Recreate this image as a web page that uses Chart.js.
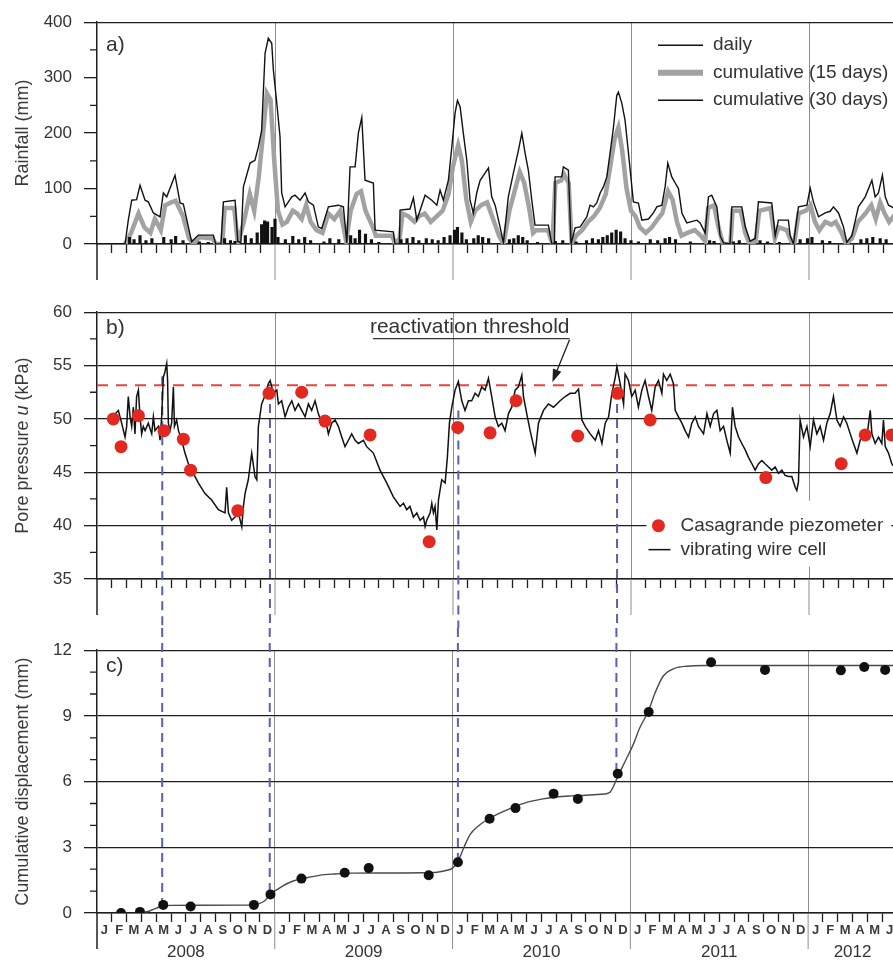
<!DOCTYPE html>
<html>
<head>
<meta charset="utf-8">
<title>Rainfall, pore pressure and displacement 2008-2012</title>
<script src="https://cdn.jsdelivr.net/npm/chart.js@4.4.1/dist/chart.umd.min.js"></script>
<style>
  html, body { margin: 0; padding: 0; background: #fff; overflow: hidden; }
  #wrap { position: relative; width: 893px; height: 962px; overflow: hidden; }
  #wrap canvas { position: absolute; left: 0; }
</style>
</head>
<body>
<div id="wrap">
  <canvas id="rainChart" width="898" height="290" style="top:0"></canvas>
  <canvas id="poreChart" width="898" height="338" style="top:290px"></canvas>
  <canvas id="dispChart" width="898" height="334" style="top:628px"></canvas>
</div>
<script>
// time axis: months since 1 Jan 2008
const X_MAX = 54;
const monthLetters = ['J', 'F', 'M', 'A', 'M', 'J', 'J', 'A', 'S', 'O', 'N', 'D'];
const years = [2008, 2009, 2010, 2011, 2012];

// a) rainfall (mm)
const dailyMonths = [2.2, 2.5, 2.9, 3.3, 3.7, 4.5, 5.0, 5.3, 5.8, 6.9,
  7.5, 8.6, 9.0, 9.3, 10.0, 10.4, 10.8, 11.1, 11.3, 11.5,
  11.8, 12.0, 12.2, 12.7, 13.2, 13.6, 14.0, 14.4, 15.3, 15.7,
  16.3, 17.1, 17.4, 17.7, 18.1, 18.5, 19.0, 20.5, 20.9, 21.3,
  21.7, 22.2, 22.6, 23.0, 23.4, 23.8, 24.1, 24.3, 24.6, 24.9,
  25.4, 25.7, 26.0, 26.4, 27.8, 28.1, 28.4, 28.7, 29.0, 29.7,
  30.9, 31.4, 32.3, 33.0, 33.4, 33.8, 34.1, 34.4, 34.7, 35.0,
  35.3, 35.6, 36.0, 36.5, 37.3, 37.8, 38.3, 38.6, 39.0, 40.0,
  41.3, 41.6, 42.9, 43.3, 44.7, 45.2, 46.0, 47.4, 47.9, 48.2,
  48.9, 49.4, 51.5, 51.9, 52.3, 52.8, 53.2];
const dailyMm = [12, 8, 15, 6, 10, 12, 8, 14, 6, 4,
  3, 10, 6, 5, 15, 10, 20, 35, 42, 40,
  30, 45, 12, 8, 14, 8, 12, 6, 4, 10,
  8, 15, 10, 25, 18, 8, 3, 8, 10, 12,
  6, 10, 8, 6, 12, 15, 25, 30, 20, 8,
  10, 15, 12, 10, 8, 10, 15, 12, 6, 3,
  5, 6, 4, 6, 10, 8, 12, 15, 20, 25,
  22, 10, 6, 4, 8, 6, 10, 12, 8, 4,
  6, 5, 4, 6, 6, 4, 3, 8, 10, 12,
  6, 5, 8, 10, 12, 10, 8];

const rain15Months = [1.9, 2.3, 2.8, 3.2, 3.6, 3.9, 4.3, 4.6, 5.0, 5.3,
  5.8, 6.2, 6.5, 6.9, 7.8, 8.0, 8.45, 8.6, 9.25, 9.5,
  9.9, 10.3, 10.6, 10.9, 11.2, 11.45, 11.7, 11.95, 12.2, 12.5,
  12.8, 13.2, 13.5, 13.8, 14.1, 14.4, 14.8, 15.2, 15.6, 16.0,
  16.4, 16.8, 17.1, 17.5, 17.8, 18.1, 18.6, 18.8, 19.9, 20.1,
  20.4, 20.6, 21.0, 21.4, 21.7, 22.1, 22.5, 22.9, 23.3, 23.7,
  24.0, 24.35, 24.6, 24.9, 25.2, 25.5, 25.9, 26.3, 26.7, 27.1,
  27.4, 27.8, 28.1, 28.5, 28.8, 29.1, 29.4, 29.6, 30.4, 30.7,
  30.9, 31.3, 31.5, 31.8, 32.0, 32.3, 32.7, 33.1, 33.5, 33.9,
  34.3, 34.6, 34.9, 35.15, 35.4, 35.7, 36.0, 36.3, 36.6, 37.0,
  37.4, 37.8, 38.1, 38.5, 38.8, 39.1, 39.4, 39.8, 40.3, 40.7,
  41.0, 41.2, 41.6, 41.9, 42.2, 42.7, 42.85, 43.4, 43.7, 44.0,
  44.4, 44.65, 45.4, 45.7, 45.95, 46.5, 46.8, 47.0, 47.3, 47.8,
  48.1, 48.4, 48.7, 49.1, 49.5, 49.8, 50.2, 50.5, 50.9, 51.3,
  51.8, 52.2, 52.5, 52.8, 53.1, 53.4, 54.0];
const rain15Mm = [0, 20, 55, 30, 20, 45, 25, 70, 75, 78,
  50, 10, 0, 12, 10, 0, 0, 65, 65, 0,
  40, 90, 60, 120, 200, 272, 260, 150, 60, 35,
  40, 60, 55, 45, 70, 40, 25, 20, 55, 45,
  60, 5, 60, 90, 95, 60, 30, 15, 15, 0,
  10, 55, 50, 40, 50, 55, 40, 50, 60, 90,
  140, 178, 150, 80, 40, 60, 70, 75, 45, 15,
  0, 60, 90, 130, 110, 70, 20, 25, 25, 0,
  110, 115, 125, 110, 0, 15, 25, 40, 50, 65,
  90, 140, 190, 210, 170, 100, 60, 50, 30, 20,
  30, 45, 55, 95, 80, 40, 15, 20, 25, 15,
  5, 65, 70, 30, 0, 0, 60, 60, 20, 0,
  5, 60, 65, 10, 30, 25, 5, 0, 55, 60,
  70, 40, 25, 40, 35, 40, 20, 0, 10, 40,
  55, 70, 45, 75, 55, 40, 60];

const rain30Months = [0, 1.89, 2.11, 2.34, 2.67, 2.90, 3.24, 3.46, 3.80, 4.25,
  4.47, 4.70, 5.26, 5.60, 5.82, 6.16, 6.38, 6.83, 7.84, 8.00,
  8.36, 8.52, 9.31, 9.49, 9.70, 9.87, 10.32, 10.65, 10.88, 11.10,
  11.33, 11.55, 11.78, 11.89, 12.12, 12.34, 12.45, 12.68, 13.13, 13.35,
  13.69, 14.03, 14.25, 14.59, 14.92, 15.15, 15.60, 16.27, 16.61, 16.84,
  17.06, 17.40, 17.62, 17.85, 18.07, 18.63, 18.75, 19.98, 20.09, 20.39,
  20.43, 21.10, 21.33, 21.56, 22.12, 22.57, 22.91, 23.13, 23.35, 23.69,
  23.92, 24.14, 24.30, 24.48, 24.70, 24.93, 25.15, 25.37, 25.60, 25.83,
  26.16, 26.39, 26.61, 26.84, 27.17, 27.40, 27.73, 28.07, 28.41, 28.64,
  28.86, 29.08, 29.31, 29.53, 30.43, 30.66, 30.84, 30.88, 31.33, 31.44,
  31.78, 31.96, 32.23, 32.57, 33.02, 33.24, 33.47, 33.69, 33.92, 34.14,
  34.37, 34.59, 34.82, 35.04, 35.15, 35.38, 35.60, 35.83, 36.16, 36.50,
  36.73, 37.18, 37.51, 37.74, 38.08, 38.30, 38.48, 38.75, 38.98, 39.20,
  39.43, 39.76, 40.44, 40.66, 41.00, 41.22, 41.44, 41.79, 42.01, 42.23,
  42.68, 42.80, 43.47, 43.70, 44.03, 44.37, 44.59, 45.49, 45.72, 45.94,
  46.61, 46.73, 46.95, 47.29, 47.86, 48.08, 48.30, 48.64, 49.09, 49.43,
  49.65, 49.99, 50.32, 50.55, 50.89, 51.33, 51.79, 52.24, 52.46, 52.68,
  52.95, 53.14, 53.36, 53.58, 54.00];
const rain30Mm = [0, 0, 43, 79, 80, 106, 79, 76, 56, 49,
  92, 85, 124, 74, 72, 31, 4, 16, 16, 0,
  0, 76, 79, 5, 2, 103, 146, 151, 175, 205,
  344, 371, 362, 314, 254, 193, 92, 67, 85, 88,
  79, 92, 76, 70, 31, 28, 67, 70, 67, 2,
  139, 139, 200, 228, 115, 110, 25, 22, 0, 0,
  61, 63, 83, 43, 88, 79, 70, 97, 79, 115,
  175, 236, 259, 247, 199, 151, 79, 56, 92, 115,
  128, 137, 85, 70, 31, 2, 85, 128, 169, 200,
  164, 133, 79, 34, 34, 0, 0, 121, 121, 139,
  133, 0, 29, 31, 49, 70, 67, 74, 92, 103,
  121, 164, 211, 268, 274, 254, 223, 164, 76, 74,
  43, 45, 56, 67, 70, 103, 146, 121, 110, 100,
  56, 38, 43, 38, 20, 85, 88, 67, 15, 2,
  0, 67, 67, 31, 5, 10, 76, 74, 15, 43,
  43, 15, 0, 67, 70, 101, 76, 49, 56, 59,
  67, 56, 31, 3, 15, 67, 85, 115, 85, 92,
  124, 85, 70, 67, 60];

// b) pore pressure (kPa)
const wireMonths = [1.10, 1.44, 1.66, 1.89, 2.00, 2.11, 2.23, 2.34, 2.45, 2.56,
  2.67, 2.79, 2.90, 3.01, 3.12, 3.24, 3.46, 3.69, 3.80, 3.91,
  4.14, 4.25, 4.36, 4.47, 4.58, 4.70, 4.76, 4.81, 4.92, 5.03,
  5.15, 5.22, 5.37, 5.49, 5.71, 5.93, 6.16, 6.38, 6.83, 7.28,
  7.73, 8.18, 8.63, 8.74, 8.86, 9.08, 9.31, 9.53, 9.76, 9.87,
  9.98, 10.20, 10.43, 10.65, 10.77, 10.88, 11.10, 11.33, 11.55, 11.67,
  11.89, 12.12, 12.23, 12.45, 12.68, 12.90, 13.13, 13.35, 13.58, 13.80,
  14.03, 14.25, 14.47, 14.70, 14.92, 15.15, 15.37, 15.60, 15.82, 16.05,
  16.27, 16.50, 16.72, 16.95, 17.17, 17.40, 17.62, 17.96, 18.18, 18.63,
  19.08, 19.53, 19.98, 20.43, 20.66, 20.88, 21.10, 21.33, 21.56, 21.78,
  22.01, 22.12, 22.23, 22.46, 22.57, 22.68, 22.79, 22.91, 23.02, 23.24,
  23.47, 23.62, 23.76, 23.92, 24.14, 24.36, 24.59, 24.81, 25.04, 25.26,
  25.49, 25.71, 25.94, 26.16, 26.39, 26.61, 26.84, 27.06, 27.29, 27.51,
  27.74, 27.96, 28.19, 28.41, 28.64, 28.75, 28.97, 29.20, 29.54, 29.76,
  30.10, 30.43, 30.77, 31.22, 31.56, 31.90, 32.23, 32.46, 32.69, 32.91,
  33.25, 33.59, 33.81, 34.04, 34.26, 34.49, 34.71, 34.94, 35.05, 35.27,
  35.50, 35.60, 35.83, 36.05, 36.28, 36.50, 36.73, 36.95, 37.18, 37.40,
  37.63, 37.85, 38.08, 38.19, 38.41, 38.64, 38.86, 38.98, 39.20, 39.43,
  39.65, 39.88, 40.10, 40.33, 40.55, 40.89, 41.12, 41.34, 41.57, 41.79,
  42.01, 42.24, 42.46, 42.69, 42.84, 43.02, 43.25, 43.47, 43.70, 43.92,
  44.15, 44.37, 44.60, 44.82, 45.04, 45.27, 45.49, 45.72, 45.94, 46.17,
  46.39, 46.62, 46.84, 47.07, 47.18, 47.29, 47.40, 47.63, 47.86, 48.08,
  48.30, 48.53, 48.75, 48.98, 49.20, 49.43, 49.65, 49.88, 50.10, 50.33,
  50.55, 50.78, 51.00, 51.23, 51.45, 51.68, 51.90, 52.13, 52.24, 52.46,
  52.69, 52.91, 53.02, 53.14, 53.36, 53.58, 54.00];
const wireKPa = [50.3, 50.8, 49.6, 48.3, 49.3, 52.1, 50.2, 49.3, 51.1, 48.6,
  52.1, 52.7, 50.2, 48.6, 49.3, 48.9, 49.6, 48.6, 50.2, 48.9,
  49.3, 48.0, 50.2, 53.9, 54.4, 55.2, 53.6, 49.6, 48.9, 49.6,
  53.0, 49.3, 49.9, 48.9, 48.0, 46.8, 45.8, 45.2, 44.0, 43.0,
  42.4, 41.5, 41.2, 43.6, 41.2, 40.5, 40.8, 41.2, 39.9, 41.8,
  43.0, 44.3, 46.8, 44.6, 44.3, 49.3, 51.4, 52.2, 53.3, 53.6,
  52.4, 52.7, 51.4, 51.7, 50.2, 51.1, 51.7, 50.8, 51.4, 50.8,
  50.2, 51.4, 50.8, 51.7, 50.5, 49.6, 50.2, 48.6, 49.6, 49.9,
  49.3, 48.3, 47.4, 48.0, 48.6, 48.0, 47.7, 48.0, 47.4, 46.8,
  45.2, 44.0, 42.7, 41.8, 42.1, 41.5, 41.8, 40.8, 41.2, 40.5,
  40.8, 39.9, 40.5, 41.2, 42.1, 41.2, 41.8, 39.6, 42.4, 44.3,
  44.0, 46.4, 49.6, 51.1, 52.7, 53.5, 51.7, 50.8, 51.7, 51.7,
  52.4, 52.1, 53.0, 52.7, 53.8, 52.1, 50.2, 49.3, 49.6, 48.9,
  50.5, 51.1, 52.7, 53.0, 54.1, 52.1, 50.5, 48.9, 46.8, 49.6,
  50.8, 51.4, 51.1, 51.7, 52.1, 52.4, 52.4, 52.8, 49.9, 49.3,
  48.6, 48.0, 48.9, 47.7, 49.6, 50.2, 52.4, 53.9, 54.9, 53.3,
  51.4, 54.2, 53.6, 52.1, 52.7, 51.1, 52.7, 53.6, 52.1, 50.8,
  53.0, 53.6, 52.4, 54.2, 53.6, 54.2, 53.3, 50.8, 50.2, 49.6,
  48.9, 48.3, 49.6, 50.2, 49.3, 48.6, 50.5, 49.3, 50.5, 50.8,
  48.9, 49.3, 48.0, 46.8, 51.1, 49.3, 48.3, 47.7, 47.1, 46.4,
  45.8, 45.2, 45.8, 46.1, 45.8, 45.5, 45.2, 45.5, 44.9, 45.2,
  44.7, 44.6, 44.6, 43.6, 43.3, 44.1, 49.9, 48.3, 49.3, 47.4,
  49.9, 48.6, 49.3, 48.0, 49.6, 50.5, 52.1, 49.9, 49.3, 50.2,
  49.6, 48.6, 47.7, 46.8, 48.0, 48.6, 48.3, 50.8, 48.6, 47.7,
  48.3, 47.7, 49.9, 47.4, 46.8, 45.8, 45.0];

const piezoMonths = [1.10, 1.62, 2.79, 4.52, 5.82, 6.31, 9.49, 11.60, 13.80, 15.37,
  18.41, 22.39, 24.32, 26.50, 28.25, 32.41, 35.10, 37.29, 45.09, 50.17,
  51.79, 53.57];
const piezoKPa = [50.0, 47.4, 50.3, 48.9, 48.1, 45.2, 41.4, 52.4, 52.5, 49.8,
  48.5, 38.5, 49.2, 48.7, 51.7, 48.4, 52.4, 49.9, 44.5, 45.8,
  48.5, 48.5];

const thresholdKPa = 53.15;

// c) cumulative displacement (mm)
const surveyMonths = [1.62, 2.90, 4.47, 6.32, 10.59, 11.71, 13.80, 16.72, 18.34, 22.39,
  24.36, 26.50, 28.25, 30.82, 32.46, 35.15, 37.24, 41.45, 45.09, 50.21,
  51.79, 53.20];
const surveyMm = [0.00, 0.05, 0.37, 0.30, 0.37, 0.85, 1.57, 1.84, 2.05, 1.72,
  2.32, 4.30, 4.79, 5.45, 5.21, 6.36, 9.18, 11.45, 11.10, 11.08,
  11.23, 11.10];

const trendMonths = [2.9, 3.5, 4.0, 4.4, 5.0, 10.4, 10.9, 11.3, 11.8, 12.5,
  13.2, 14.1, 15.0, 16.0, 17.2, 22.8, 23.6, 24.0, 24.4, 24.8,
  25.2, 25.7, 26.2, 27.0, 28.0, 29.0, 30.0, 31.0, 32.0, 33.0,
  34.0, 34.6, 35.2, 35.7, 36.2, 36.6, 37.2, 37.7, 38.2, 38.9,
  39.8, 41.0, 54.0];
const trendMm = [0.00, 0.08, 0.22, 0.32, 0.35, 0.36, 0.42, 0.55, 0.90, 1.22,
  1.45, 1.60, 1.72, 1.78, 1.82, 1.85, 1.95, 2.05, 2.40, 3.05,
  3.60, 3.95, 4.20, 4.50, 4.80, 5.05, 5.20, 5.30, 5.35, 5.38,
  5.42, 5.50, 6.30, 7.00, 7.70, 8.40, 9.20, 10.10, 10.80, 11.15,
  11.27, 11.30, 11.30];

// reactivation events: start of each acceleration phase
const eventMonths = [4.40, 11.66, 24.36, 35.06];
const eventKPa = [54.0, 52.8, 50.8, 52.8];
const eventMm = [0.37, 0.85, 2.32, 6.36];

const FONT = "'Liberation Sans', Arial, sans-serif";
const INK = '#1e1e1e';
const TEXT = '#333';

const zip = (xs, ys) => xs.map((x, i) => ({ x, y: ys[i] }));

function monthAxis(height, withLabels) {
  return {
    type: 'linear',
    min: 0,
    max: X_MAX,
    offset: false,
    afterBuildTicks: s => {
      s.ticks = Array.from({ length: X_MAX + 1 }, (_, m) => ({ value: m }));
    },
    afterFit: s => { s.height = height; },
    grid: {
      offset: false,
      color: c => (c.tick && c.tick.value > 0 && c.tick.value % 12 === 0 ? '#8d8d8d' : 'rgba(0,0,0,0)'),
      lineWidth: 1,
      tickLength: 9,
      tickWidth: 1.3,
      tickColor: c => (c.tick && c.tick.value % 12 === 0 ? 'rgba(0,0,0,0)' : INK),
    },
    border: { display: true, color: INK, width: 1.5 },
    ticks: {
      display: withLabels,
      autoSkip: false,
      maxRotation: 0,
      minRotation: 0,
      labelOffset: 7.4,
      padding: 1,
      color: '#3a3a3a',
      font: { family: FONT, size: 13, weight: 'bold' },
      callback: v => (v < X_MAX ? monthLetters[v % 12] : ''),
    },
  };
}

function valueAxis(min, max, step, edgesOnly) {
  return {
    type: 'linear',
    min,
    max,
    afterFit: s => { s.width = 97; },
    ticks: { stepSize: step, padding: 12, color: TEXT, font: { family: FONT, size: 17 } },
    grid: {
      color: c => (edgesOnly && c.tick && c.tick.value !== min && c.tick.value !== max ? 'rgba(0,0,0,0)' : INK),
      lineWidth: 1.3,
      tickLength: 13,
      tickWidth: 1.3,
      tickColor: INK,
    },
    border: { display: true, color: INK, width: 1.5 },
  };
}

// minor ticks, year dividers below the axis, panel letter and axis title
const panelFrame = {
  id: 'panelFrame',
  afterDraw(chart, _args, opts) {
    const { ctx, chartArea: area, scales: { x, y } } = chart;
    ctx.save();

    const count = Math.round((y.max - y.min) / opts.minorStep);
    const every = Math.round(y.options.ticks.stepSize / opts.minorStep);
    ctx.strokeStyle = INK;
    ctx.lineWidth = 1.3;
    ctx.beginPath();
    for (let k = 1; k < count; k++) {
      if (k % every === 0) continue;
      const py = y.getPixelForValue(y.min + k * opts.minorStep);
      ctx.moveTo(area.left - 7, py);
      ctx.lineTo(area.left, py);
    }
    ctx.stroke();

    years.forEach((yr, i) => {
      const px = x.getPixelForValue(i * 12);
      ctx.strokeStyle = i === 0 ? INK : '#8d8d8d';
      ctx.lineWidth = i === 0 ? 1.5 : 1;
      ctx.beginPath();
      ctx.moveTo(px, area.bottom);
      ctx.lineTo(px, area.bottom + 36);
      ctx.stroke();
    });

    ctx.fillStyle = TEXT;
    ctx.font = `21px ${FONT}`;
    ctx.textAlign = 'left';
    ctx.textBaseline = 'middle';
    ctx.fillText(opts.letter, area.left + 9, area.top + opts.letterDy);

    ctx.translate(23, (area.top + area.bottom) / 2);
    ctx.rotate(-Math.PI / 2);
    const parts = opts.title.map(([text, italic]) => {
      ctx.font = `${italic ? 'italic ' : ''}18px ${FONT}`;
      return { text, font: ctx.font, w: ctx.measureText(text).width };
    });
    let cursor = -parts.reduce((s, p) => s + p.w, 0) / 2;
    ctx.fillStyle = '#3a3a3a';
    parts.forEach(p => {
      ctx.font = p.font;
      ctx.fillText(p.text, cursor, 0);
      cursor += p.w;
    });
    ctx.restore();
  },
};

const rainLegend = {
  id: 'rainLegend',
  afterDraw(chart) {
    const { ctx, chartArea: area } = chart;
    const left = area.right - 240;
    ctx.save();
    ctx.font = `19px ${FONT}`;
    ctx.textAlign = 'left';
    ctx.textBaseline = 'middle';
    chart.data.datasets.forEach((ds, i) => {
      const py = area.top + 23 + i * 27.5;
      ctx.strokeStyle = ds.legendColor;
      ctx.lineWidth = ds.legendWidth;
      ctx.beginPath();
      ctx.moveTo(left, py);
      ctx.lineTo(left + 45, py);
      ctx.stroke();
      ctx.fillStyle = TEXT;
      ctx.fillText(ds.label, left + 55, py);
    });
    ctx.restore();
  },
};

function drawEventLines(chart, values, fromPoint) {
  const { ctx, scales: { x, y } } = chart;
  ctx.save();
  ctx.strokeStyle = '#5862aa';
  ctx.lineWidth = 2;
  ctx.setLineDash([9, 6]);
  eventMonths.forEach((m, i) => {
    const px = x.getPixelForValue(m);
    const py = y.getPixelForValue(values[i]);
    ctx.beginPath();
    if (fromPoint) {
      ctx.moveTo(px, py);
      ctx.lineTo(px, chart.height);
    } else {
      ctx.moveTo(px, 0);
      ctx.lineTo(px, py);
    }
    ctx.stroke();
  });
  ctx.restore();
}

const poreNotes = {
  id: 'poreNotes',
  beforeDatasetsDraw(chart) {
    drawEventLines(chart, eventKPa, true);
  },
  afterDraw(chart) {
    const { ctx, scales: { x, y } } = chart;
    ctx.save();

    // threshold callout
    const label = 'reactivation threshold';
    const tx = x.getPixelForValue(18.4);
    const ty = y.getPixelForValue(58.55);
    ctx.font = `21px ${FONT}`;
    ctx.fillStyle = TEXT;
    ctx.textAlign = 'left';
    ctx.textBaseline = 'middle';
    ctx.fillText(label, tx, ty);
    const ux1 = tx + ctx.measureText(label).width;
    const uy = ty + 11;
    ctx.strokeStyle = TEXT;
    ctx.lineWidth = 1.3;
    ctx.beginPath();
    ctx.moveTo(tx + 3, uy);
    ctx.lineTo(ux1, uy);
    ctx.stroke();

    const ax = x.getPixelForValue(30.7);
    const ay = y.getPixelForValue(thresholdKPa) - 3;
    const ang = Math.atan2(ay - uy, ax - ux1);
    const bx = ax - 13 * Math.cos(ang);
    const by = ay - 13 * Math.sin(ang);
    ctx.strokeStyle = INK;
    ctx.beginPath();
    ctx.moveTo(ux1, uy + 1);
    ctx.lineTo(bx, by);
    ctx.stroke();
    ctx.fillStyle = INK;
    ctx.beginPath();
    ctx.moveTo(ax, ay);
    ctx.lineTo(bx + 4.5 * Math.sin(ang), by - 4.5 * Math.cos(ang));
    ctx.lineTo(bx - 4.5 * Math.sin(ang), by + 4.5 * Math.cos(ang));
    ctx.closePath();
    ctx.fill();

    // legend on a white patch
    const piezo = chart.data.datasets[2];
    const wire = chart.data.datasets[1];
    const lx = x.getPixelForValue(37.85);
    const ly = y.getPixelForValue(40);
    ctx.font = `19px ${FONT}`;
    const w = ctx.measureText(piezo.label).width;
    ctx.fillStyle = '#fff';
    ctx.fillRect(lx - 12, ly - 25, w + 42, 66);

    ctx.fillStyle = piezo.pointBackgroundColor;
    ctx.beginPath();
    ctx.arc(lx, ly, 6.5, 0, Math.PI * 2);
    ctx.fill();
    ctx.strokeStyle = wire.borderColor;
    ctx.lineWidth = 1.5;
    ctx.beginPath();
    ctx.moveTo(lx - 10, ly + 24);
    ctx.lineTo(lx + 12, ly + 24);
    ctx.stroke();
    ctx.fillStyle = TEXT;
    ctx.fillText(piezo.label, lx + 22, ly);
    ctx.fillText(wire.label, lx + 22, ly + 24);
    ctx.restore();
  },
};

const dispNotes = {
  id: 'dispNotes',
  beforeDatasetsDraw(chart) {
    drawEventLines(chart, eventMm, false);
  },
  afterDraw(chart) {
    const { ctx, chartArea: area, scales: { x } } = chart;
    ctx.save();
    ctx.font = `17px ${FONT}`;
    ctx.fillStyle = TEXT;
    ctx.textAlign = 'center';
    ctx.textBaseline = 'middle';
    years.forEach((yr, i) => {
      const from = x.getPixelForValue(i * 12);
      const to = x.getPixelForValue(Math.min(i * 12 + 12, X_MAX));
      ctx.fillText(String(yr), (from + to) / 2, area.bottom + 39);
    });
    ctx.restore();
  },
};

function baseOptions(padTop, axisHeight, yAxis, withMonths, frame) {
  return {
    responsive: false,
    animation: false,
    events: [],
    layout: { autoPadding: false, padding: { top: padTop, left: 0, right: 0, bottom: 0 } },
    scales: { x: monthAxis(axisHeight, withMonths), y: yAxis },
    plugins: {
      legend: { display: false },
      tooltip: { enabled: false },
      panelFrame: frame,
    },
  };
}

new Chart(document.getElementById('rainChart'), {
  type: 'line',
  data: {
    datasets: [
      {
        type: 'bar',
        label: 'daily',
        data: zip(dailyMonths, dailyMm),
        backgroundColor: '#111',
        barThickness: 2.5,
        grouped: false,
        order: 0,
        legendColor: '#111',
        legendWidth: 1.5,
      },
      {
        label: 'cumulative (15 days)',
        data: zip(rain15Months, rain15Mm),
        borderColor: '#a2a2a2',
        borderWidth: 4.5,
        pointRadius: 0,
        order: 2,
        legendColor: '#a2a2a2',
        legendWidth: 6,
      },
      {
        label: 'cumulative (30 days)',
        data: zip(rain30Months, rain30Mm),
        borderColor: '#111',
        borderWidth: 1.4,
        pointRadius: 0,
        order: 1,
        legendColor: '#111',
        legendWidth: 1.5,
      },
    ],
  },
  options: baseOptions(22, 46, valueAxis(0, 400, 100, true), false,
    { letter: 'a)', letterDy: 23, minorStep: 50, title: [['Rainfall (mm)', false]] }),
  plugins: [panelFrame, rainLegend],
});

new Chart(document.getElementById('poreChart'), {
  type: 'line',
  data: {
    datasets: [
      {
        label: 'reactivation threshold',
        data: [{ x: 0, y: thresholdKPa }, { x: X_MAX, y: thresholdKPa }],
        borderColor: '#e8433d',
        borderWidth: 2,
        borderDash: [11, 8],
        pointRadius: 0,
        order: 3,
      },
      {
        label: 'vibrating wire cell',
        data: zip(wireMonths, wireKPa),
        borderColor: '#111',
        borderWidth: 1.5,
        pointRadius: 0,
        order: 2,
      },
      {
        label: 'Casagrande piezometer',
        data: zip(piezoMonths, piezoKPa),
        showLine: false,
        pointRadius: 6.5,
        pointBorderWidth: 0,
        pointBackgroundColor: '#e3281f',
        order: 1,
      },
    ],
  },
  options: baseOptions(22, 49, valueAxis(35, 60, 5, false), false,
    { letter: 'b)', letterDy: 16, minorStep: 2.5,
      title: [['Pore pressure ', false], ['u', true], [' (kPa)', false]] }),
  plugins: [panelFrame, poreNotes],
});

new Chart(document.getElementById('dispChart'), {
  type: 'line',
  data: {
    datasets: [
      {
        label: 'fitted trend',
        data: zip(trendMonths, trendMm),
        borderColor: '#4a4a4a',
        borderWidth: 1.4,
        pointRadius: 0,
        cubicInterpolationMode: 'monotone',
        order: 2,
      },
      {
        label: 'survey',
        data: zip(surveyMonths, surveyMm),
        showLine: false,
        pointRadius: 5,
        pointBorderWidth: 0,
        pointBackgroundColor: '#111',
        order: 1,
      },
    ],
  },
  options: baseOptions(18, 49, valueAxis(0, 12, 3, false), true,
    { letter: 'c)', letterDy: 16, minorStep: 1, title: [['Cumulative displacement (mm)', false]] }),
  plugins: [panelFrame, dispNotes],
});
</script>
</body>
</html>
